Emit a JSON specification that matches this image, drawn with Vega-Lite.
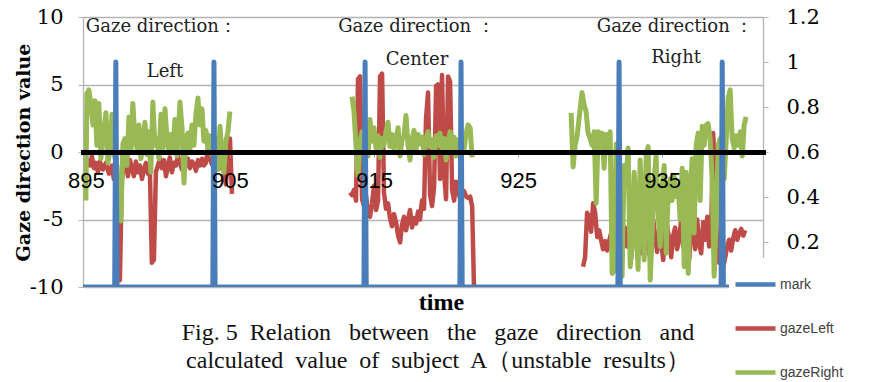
{
"$schema":"https://vega.github.io/schema/vega-lite/v6.json",
"width":680,"height":270,
"autosize":{"type":"none"},
"padding":{"left":83,"top":17,"right":115,"bottom":95},
"background":"white",
"config":{"view":{"stroke":null}},
"datasets":{
"gazeLeft":[
{"t":895.14,"seg":1,"v":-0.5},{"t":895.28,"seg":1,"v":-1.0},{"t":895.42,"seg":1,"v":-0.3},{"t":895.56,"seg":1,"v":-1.2},{"t":895.69,"seg":1,"v":-0.8},{"t":895.83,"seg":1,"v":-1.5},{"t":895.97,"seg":1,"v":-0.7},{"t":896.18,"seg":1,"v":-1.3},{"t":896.39,"seg":1,"v":-0.8},{"t":896.60,"seg":1,"v":-1.6},{"t":896.81,"seg":1,"v":-1.0},{"t":896.94,"seg":1,"v":-2.0},{"t":897.08,"seg":1,"v":-1.5},{"t":897.22,"seg":1,"v":-9.3},{"t":897.36,"seg":1,"v":-9.5},{"t":897.50,"seg":1,"v":-2.0},{"t":897.64,"seg":1,"v":-1.2},{"t":897.78,"seg":1,"v":-0.5},{"t":897.92,"seg":1,"v":-1.8},{"t":898.06,"seg":1,"v":-0.6},{"t":898.19,"seg":1,"v":-1.2},{"t":898.33,"seg":1,"v":-1.8},{"t":898.47,"seg":1,"v":-0.7},{"t":898.61,"seg":1,"v":-1.5},{"t":898.75,"seg":1,"v":-1.0},{"t":898.89,"seg":1,"v":-2.0},{"t":899.03,"seg":1,"v":-1.3},{"t":899.17,"seg":1,"v":-0.8},{"t":899.31,"seg":1,"v":-1.6},{"t":899.44,"seg":1,"v":-1.2},{"t":899.58,"seg":1,"v":-8.2},{"t":899.72,"seg":1,"v":-8.0},{"t":899.86,"seg":1,"v":-1.5},{"t":900.00,"seg":1,"v":-1.0},{"t":900.14,"seg":1,"v":-0.5},{"t":900.28,"seg":1,"v":-1.2},{"t":900.42,"seg":1,"v":-0.6},{"t":900.56,"seg":1,"v":-1.8},{"t":900.69,"seg":1,"v":-1.0},{"t":900.83,"seg":1,"v":-0.4},{"t":900.97,"seg":1,"v":-1.5},{"t":901.11,"seg":1,"v":-0.8},{"t":901.25,"seg":1,"v":-1.0},{"t":901.39,"seg":1,"v":-0.3},{"t":901.53,"seg":1,"v":-0.8},{"t":901.67,"seg":1,"v":-1.3},{"t":901.81,"seg":1,"v":-0.6},{"t":901.94,"seg":1,"v":-1.0},{"t":902.08,"seg":1,"v":-0.5},{"t":902.22,"seg":1,"v":-1.2},{"t":902.36,"seg":1,"v":-0.7},{"t":902.50,"seg":1,"v":-0.9},{"t":902.64,"seg":1,"v":-1.4},{"t":902.78,"seg":1,"v":-0.6},{"t":902.92,"seg":1,"v":-1.0},{"t":903.06,"seg":1,"v":-0.5},{"t":903.19,"seg":1,"v":-1.0},{"t":903.33,"seg":1,"v":-0.8},{"t":903.47,"seg":1,"v":0.3},{"t":903.61,"seg":1,"v":-0.5},{"t":903.75,"seg":1,"v":-0.9},{"t":903.89,"seg":1,"v":-0.6},{"t":904.03,"seg":1,"v":-1.0},{"t":904.17,"seg":1,"v":-0.8},{"t":904.31,"seg":1,"v":-1.2},{"t":904.44,"seg":1,"v":-0.5},{"t":904.58,"seg":1,"v":-1.5},{"t":904.72,"seg":1,"v":-2.4},{"t":904.86,"seg":1,"v":-0.3},{"t":905.00,"seg":1,"v":1.0},{"t":905.14,"seg":1,"v":-3.1},
{"t":913.33,"seg":2,"v":-3.0},{"t":913.47,"seg":2,"v":-3.2},{"t":913.61,"seg":2,"v":-2.8},{"t":913.75,"seg":2,"v":-3.6},{"t":913.89,"seg":2,"v":5.4},{"t":914.03,"seg":2,"v":5.6},{"t":914.17,"seg":2,"v":-3.5},{"t":914.31,"seg":2,"v":-4.0},{"t":914.44,"seg":2,"v":-3.2},{"t":914.58,"seg":2,"v":-4.5},{"t":914.72,"seg":2,"v":-4.8},{"t":914.86,"seg":2,"v":-3.8},{"t":915.00,"seg":2,"v":-2.5},{"t":915.14,"seg":2,"v":-4.3},{"t":915.28,"seg":2,"v":-3.6},{"t":915.42,"seg":2,"v":5.6},{"t":915.56,"seg":2,"v":5.8},{"t":915.69,"seg":2,"v":-3.0},{"t":915.83,"seg":2,"v":-4.2},{"t":915.97,"seg":2,"v":-3.8},{"t":916.11,"seg":2,"v":-4.9},{"t":916.25,"seg":2,"v":-5.5},{"t":916.39,"seg":2,"v":-4.6},{"t":916.53,"seg":2,"v":-5.2},{"t":916.67,"seg":2,"v":-6.2},{"t":916.81,"seg":2,"v":-6.7},{"t":916.94,"seg":2,"v":-5.4},{"t":917.08,"seg":2,"v":-4.8},{"t":917.22,"seg":2,"v":-5.8},{"t":917.36,"seg":2,"v":-5.0},{"t":917.50,"seg":2,"v":-4.3},{"t":917.64,"seg":2,"v":-5.6},{"t":917.78,"seg":2,"v":-4.9},{"t":917.92,"seg":2,"v":-5.3},{"t":918.06,"seg":2,"v":-4.4},{"t":918.19,"seg":2,"v":-5.0},{"t":918.33,"seg":2,"v":-3.6},{"t":918.47,"seg":2,"v":-4.2},{"t":918.61,"seg":2,"v":2.5},{"t":918.75,"seg":2,"v":4.4},{"t":918.89,"seg":2,"v":-3.2},{"t":919.03,"seg":2,"v":-4.0},{"t":919.17,"seg":2,"v":-2.6},{"t":919.31,"seg":2,"v":4.9},{"t":919.44,"seg":2,"v":5.0},{"t":919.58,"seg":2,"v":-2.0},{"t":919.72,"seg":2,"v":5.7},{"t":919.86,"seg":2,"v":-1.5},{"t":920.00,"seg":2,"v":-3.5},{"t":920.14,"seg":2,"v":5.6},{"t":920.28,"seg":2,"v":5.2},{"t":920.42,"seg":2,"v":-2.8},{"t":920.56,"seg":2,"v":-3.6},{"t":920.69,"seg":2,"v":-2.2},{"t":920.83,"seg":2,"v":-3.0},{"t":920.97,"seg":2,"v":-3.4},{"t":921.11,"seg":2,"v":-3.0},{"t":921.25,"seg":2,"v":-2.9},{"t":921.39,"seg":2,"v":-3.3},{"t":921.53,"seg":2,"v":-3.4},{"t":921.67,"seg":2,"v":-3.3},{"t":921.81,"seg":2,"v":-4.0},{"t":921.94,"seg":2,"v":-10.0},
{"t":929.51,"seg":3,"v":-8.5},{"t":929.65,"seg":3,"v":-7.8},{"t":929.79,"seg":3,"v":-4.5},{"t":929.93,"seg":3,"v":-4.8},{"t":930.07,"seg":3,"v":-5.9},{"t":930.21,"seg":3,"v":-3.8},{"t":930.35,"seg":3,"v":-4.5},{"t":930.49,"seg":3,"v":-6.3},{"t":930.63,"seg":3,"v":-5.8},{"t":930.76,"seg":3,"v":-6.5},{"t":930.90,"seg":3,"v":-7.2},{"t":931.04,"seg":3,"v":-6.6},{"t":931.18,"seg":3,"v":-7.3},{"t":931.32,"seg":3,"v":-6.6},{"t":931.46,"seg":3,"v":-6.0},{"t":931.60,"seg":3,"v":-7.0},{"t":931.74,"seg":3,"v":-6.3},{"t":931.88,"seg":3,"v":-5.5},{"t":932.01,"seg":3,"v":-6.8},{"t":932.15,"seg":3,"v":-7.6},{"t":932.29,"seg":3,"v":-6.2},{"t":932.43,"seg":3,"v":-5.6},{"t":932.57,"seg":3,"v":-7.0},{"t":932.71,"seg":3,"v":-6.0},{"t":932.85,"seg":3,"v":-7.8},{"t":932.99,"seg":3,"v":-6.5},{"t":933.13,"seg":3,"v":-5.8},{"t":933.26,"seg":3,"v":-7.0},{"t":933.40,"seg":3,"v":-6.2},{"t":933.54,"seg":3,"v":-7.5},{"t":933.68,"seg":3,"v":-5.4},{"t":933.82,"seg":3,"v":-6.0},{"t":933.96,"seg":3,"v":-6.6},{"t":934.10,"seg":3,"v":-7.6},{"t":934.24,"seg":3,"v":-6.0},{"t":934.38,"seg":3,"v":-5.0},{"t":934.51,"seg":3,"v":-6.3},{"t":934.65,"seg":3,"v":-7.4},{"t":934.79,"seg":3,"v":-5.8},{"t":934.93,"seg":3,"v":-6.6},{"t":935.07,"seg":3,"v":-8.0},{"t":935.21,"seg":3,"v":-6.0},{"t":935.35,"seg":3,"v":-5.5},{"t":935.49,"seg":3,"v":-6.5},{"t":935.63,"seg":3,"v":-7.8},{"t":935.76,"seg":3,"v":-6.2},{"t":935.90,"seg":3,"v":-5.6},{"t":936.04,"seg":3,"v":-7.2},{"t":936.18,"seg":3,"v":-6.4},{"t":936.32,"seg":3,"v":-5.0},{"t":936.46,"seg":3,"v":-7.0},{"t":936.60,"seg":3,"v":-4.8},{"t":936.74,"seg":3,"v":-6.5},{"t":936.88,"seg":3,"v":-8.0},{"t":937.01,"seg":3,"v":-5.2},{"t":937.15,"seg":3,"v":-6.0},{"t":937.29,"seg":3,"v":-7.2},{"t":937.43,"seg":3,"v":-5.0},{"t":937.57,"seg":3,"v":-6.8},{"t":937.71,"seg":3,"v":-7.5},{"t":937.85,"seg":3,"v":-5.2},{"t":937.99,"seg":3,"v":-6.5},{"t":938.13,"seg":3,"v":-4.8},{"t":938.26,"seg":3,"v":-7.0},{"t":938.40,"seg":3,"v":-6.0},{"t":938.54,"seg":3,"v":1.4},{"t":938.68,"seg":3,"v":-2.0},{"t":938.82,"seg":3,"v":-7.5},{"t":938.96,"seg":3,"v":-8.2},{"t":939.10,"seg":3,"v":-7.0},{"t":939.24,"seg":3,"v":-8.5},{"t":939.38,"seg":3,"v":-7.8},{"t":939.51,"seg":3,"v":-7.0},{"t":939.65,"seg":3,"v":-6.5},{"t":939.79,"seg":3,"v":-7.3},{"t":939.93,"seg":3,"v":-6.4},{"t":940.07,"seg":3,"v":-5.8},{"t":940.21,"seg":3,"v":-6.5},{"t":940.35,"seg":3,"v":-6.0},{"t":940.49,"seg":3,"v":-5.7},{"t":940.63,"seg":3,"v":-6.2},{"t":940.76,"seg":3,"v":-5.8}
],
"gazeRight":[
{"t":895.00,"seg":1,"v":-3.6},{"t":895.07,"seg":1,"v":4.3},{"t":895.21,"seg":1,"v":4.6},{"t":895.35,"seg":1,"v":3.5},{"t":895.49,"seg":1,"v":2.0},{"t":895.63,"seg":1,"v":3.8},{"t":895.76,"seg":1,"v":0.5},{"t":895.90,"seg":1,"v":3.6},{"t":896.04,"seg":1,"v":-0.5},{"t":896.18,"seg":1,"v":1.0},{"t":896.39,"seg":1,"v":2.9},{"t":896.53,"seg":1,"v":-0.8},{"t":896.67,"seg":1,"v":0.2},{"t":896.81,"seg":1,"v":2.8},{"t":896.94,"seg":1,"v":0.0},{"t":897.15,"seg":1,"v":-1.0},{"t":897.29,"seg":1,"v":-5.0},{"t":897.43,"seg":1,"v":-5.1},{"t":897.57,"seg":1,"v":0.6},{"t":897.71,"seg":1,"v":1.0},{"t":897.85,"seg":1,"v":-1.0},{"t":897.99,"seg":1,"v":2.6},{"t":898.13,"seg":1,"v":0.2},{"t":898.26,"seg":1,"v":3.6},{"t":898.40,"seg":1,"v":1.0},{"t":898.54,"seg":1,"v":0.3},{"t":898.68,"seg":1,"v":2.0},{"t":898.82,"seg":1,"v":-0.5},{"t":898.96,"seg":1,"v":0.8},{"t":899.10,"seg":1,"v":2.2},{"t":899.24,"seg":1,"v":-0.2},{"t":899.38,"seg":1,"v":1.5},{"t":899.51,"seg":1,"v":-1.5},{"t":899.65,"seg":1,"v":3.7},{"t":899.79,"seg":1,"v":0.5},{"t":899.93,"seg":1,"v":1.0},{"t":900.07,"seg":1,"v":-0.5},{"t":900.21,"seg":1,"v":2.8},{"t":900.35,"seg":1,"v":0.3},{"t":900.49,"seg":1,"v":3.2},{"t":900.63,"seg":1,"v":1.0},{"t":900.76,"seg":1,"v":0.0},{"t":900.90,"seg":1,"v":1.3},{"t":901.04,"seg":1,"v":0.2},{"t":901.18,"seg":1,"v":2.4},{"t":901.32,"seg":1,"v":-0.3},{"t":901.53,"seg":1,"v":3.7},{"t":901.67,"seg":1,"v":1.8},{"t":901.81,"seg":1,"v":-2.3},{"t":901.94,"seg":1,"v":1.0},{"t":902.08,"seg":1,"v":1.4},{"t":902.22,"seg":1,"v":0.1},{"t":902.36,"seg":1,"v":2.0},{"t":902.50,"seg":1,"v":0.5},{"t":902.64,"seg":1,"v":2.8},{"t":902.78,"seg":1,"v":4.0},{"t":902.92,"seg":1,"v":2.0},{"t":903.06,"seg":1,"v":3.2},{"t":903.19,"seg":1,"v":0.8},{"t":903.33,"seg":1,"v":1.6},{"t":903.47,"seg":1,"v":0.3},{"t":903.61,"seg":1,"v":1.2},{"t":903.75,"seg":1,"v":-0.2},{"t":903.89,"seg":1,"v":0.5},{"t":904.03,"seg":1,"v":1.0},{"t":904.17,"seg":1,"v":-1.3},{"t":904.31,"seg":1,"v":1.9},{"t":904.44,"seg":1,"v":-0.3},{"t":904.58,"seg":1,"v":-1.5},{"t":904.72,"seg":1,"v":0.8},{"t":904.86,"seg":1,"v":1.5},{"t":905.00,"seg":1,"v":3.0},
{"t":913.47,"seg":2,"v":4.1},{"t":913.61,"seg":2,"v":3.0},{"t":913.75,"seg":2,"v":0.5},{"t":913.89,"seg":2,"v":-1.8},{"t":914.03,"seg":2,"v":0.8},{"t":914.17,"seg":2,"v":1.5},{"t":914.31,"seg":2,"v":0.2},{"t":914.44,"seg":2,"v":1.0},{"t":914.58,"seg":2,"v":-0.3},{"t":914.72,"seg":2,"v":2.4},{"t":914.86,"seg":2,"v":0.8},{"t":915.00,"seg":2,"v":1.8},{"t":915.14,"seg":2,"v":0.3},{"t":915.28,"seg":2,"v":1.2},{"t":915.42,"seg":2,"v":-0.4},{"t":915.56,"seg":2,"v":1.0},{"t":915.69,"seg":2,"v":0.5},{"t":915.83,"seg":2,"v":1.5},{"t":915.97,"seg":2,"v":2.2},{"t":916.11,"seg":2,"v":0.4},{"t":916.25,"seg":2,"v":1.3},{"t":916.39,"seg":2,"v":0.2},{"t":916.53,"seg":2,"v":1.0},{"t":916.67,"seg":2,"v":1.8},{"t":916.81,"seg":2,"v":-0.3},{"t":916.94,"seg":2,"v":0.9},{"t":917.08,"seg":2,"v":1.2},{"t":917.22,"seg":2,"v":2.7},{"t":917.36,"seg":2,"v":0.5},{"t":917.50,"seg":2,"v":-0.6},{"t":917.64,"seg":2,"v":1.0},{"t":917.78,"seg":2,"v":1.6},{"t":917.92,"seg":2,"v":0.2},{"t":918.06,"seg":2,"v":1.3},{"t":918.19,"seg":2,"v":0.6},{"t":918.33,"seg":2,"v":1.1},{"t":918.47,"seg":2,"v":-0.2},{"t":918.61,"seg":2,"v":1.0},{"t":918.75,"seg":2,"v":1.5},{"t":918.89,"seg":2,"v":0.4},{"t":919.03,"seg":2,"v":0.9},{"t":919.17,"seg":2,"v":-0.4},{"t":919.31,"seg":2,"v":1.2},{"t":919.44,"seg":2,"v":0.5},{"t":919.58,"seg":2,"v":1.4},{"t":919.72,"seg":2,"v":0.2},{"t":919.86,"seg":2,"v":1.0},{"t":920.00,"seg":2,"v":-0.6},{"t":920.14,"seg":2,"v":0.8},{"t":920.28,"seg":2,"v":1.5},{"t":920.42,"seg":2,"v":0.3},{"t":920.56,"seg":2,"v":1.1},{"t":920.69,"seg":2,"v":-0.3},{"t":920.83,"seg":2,"v":0.9},{"t":920.97,"seg":2,"v":0.5},{"t":921.11,"seg":2,"v":1.0},{"t":921.25,"seg":2,"v":0.2},{"t":921.39,"seg":2,"v":1.4},{"t":921.53,"seg":2,"v":2.0},{"t":921.67,"seg":2,"v":1.8},{"t":921.81,"seg":2,"v":-0.4},
{"t":928.68,"seg":3,"v":2.9},{"t":928.82,"seg":3,"v":-1.1},{"t":928.96,"seg":3,"v":0.5},{"t":929.10,"seg":3,"v":1.2},{"t":929.31,"seg":3,"v":3.2},{"t":929.44,"seg":3,"v":4.4},{"t":929.58,"seg":3,"v":3.5},{"t":929.72,"seg":3,"v":3.0},{"t":929.86,"seg":3,"v":1.4},{"t":930.00,"seg":3,"v":1.0},{"t":930.14,"seg":3,"v":0.5},{"t":930.28,"seg":3,"v":1.5},{"t":930.42,"seg":3,"v":-3.8},{"t":930.56,"seg":3,"v":1.5},{"t":930.69,"seg":3,"v":0.4},{"t":930.83,"seg":3,"v":1.4},{"t":930.97,"seg":3,"v":-1.2},{"t":931.11,"seg":3,"v":1.3},{"t":931.25,"seg":3,"v":0.3},{"t":931.39,"seg":3,"v":1.5},{"t":931.53,"seg":3,"v":-9.0},{"t":931.67,"seg":3,"v":-8.8},{"t":931.81,"seg":3,"v":0.6},{"t":931.94,"seg":3,"v":-3.5},{"t":932.08,"seg":3,"v":-6.0},{"t":932.22,"seg":3,"v":-9.2},{"t":932.36,"seg":3,"v":-1.0},{"t":932.50,"seg":3,"v":-2.0},{"t":932.64,"seg":3,"v":0.3},{"t":932.78,"seg":3,"v":-8.5},{"t":932.92,"seg":3,"v":-7.0},{"t":933.06,"seg":3,"v":-1.5},{"t":933.19,"seg":3,"v":-5.0},{"t":933.33,"seg":3,"v":-8.7},{"t":933.47,"seg":3,"v":-0.6},{"t":933.61,"seg":3,"v":-4.0},{"t":933.75,"seg":3,"v":-8.0},{"t":933.89,"seg":3,"v":-0.3},{"t":934.03,"seg":3,"v":0.4},{"t":934.17,"seg":3,"v":-9.5},{"t":934.31,"seg":3,"v":-6.0},{"t":934.44,"seg":3,"v":-2.0},{"t":934.58,"seg":3,"v":-0.3},{"t":934.72,"seg":3,"v":-4.5},{"t":934.86,"seg":3,"v":-7.0},{"t":935.00,"seg":3,"v":-2.5},{"t":935.14,"seg":3,"v":-1.0},{"t":935.28,"seg":3,"v":-7.5},{"t":935.42,"seg":3,"v":-3.0},{"t":935.56,"seg":3,"v":-2.0},{"t":935.69,"seg":3,"v":-3.6},{"t":935.83,"seg":3,"v":-1.8},{"t":935.97,"seg":3,"v":-3.3},{"t":936.11,"seg":3,"v":-2.5},{"t":936.25,"seg":3,"v":-5.0},{"t":936.39,"seg":3,"v":-1.2},{"t":936.53,"seg":3,"v":-8.5},{"t":936.67,"seg":3,"v":-1.5},{"t":936.81,"seg":3,"v":-9.0},{"t":936.94,"seg":3,"v":-3.5},{"t":937.08,"seg":3,"v":-0.5},{"t":937.22,"seg":3,"v":-6.0},{"t":937.36,"seg":3,"v":0.5},{"t":937.50,"seg":3,"v":1.4},{"t":937.64,"seg":3,"v":-3.6},{"t":937.78,"seg":3,"v":1.9},{"t":937.92,"seg":3,"v":0.5},{"t":938.06,"seg":3,"v":2.0},{"t":938.19,"seg":3,"v":2.1},{"t":938.33,"seg":3,"v":1.0},{"t":938.47,"seg":3,"v":-2.0},{"t":938.61,"seg":3,"v":-9.2},{"t":938.75,"seg":3,"v":-5.0},{"t":938.89,"seg":3,"v":0.5},{"t":939.03,"seg":3,"v":1.0},{"t":939.17,"seg":3,"v":0.8},{"t":939.31,"seg":3,"v":-2.0},{"t":939.44,"seg":3,"v":0.8},{"t":939.58,"seg":3,"v":4.0},{"t":939.72,"seg":3,"v":4.6},{"t":939.86,"seg":3,"v":1.0},{"t":940.00,"seg":3,"v":0.3},{"t":940.14,"seg":3,"v":1.2},{"t":940.28,"seg":3,"v":0.5},{"t":940.42,"seg":3,"v":1.5},{"t":940.56,"seg":3,"v":-0.3},{"t":940.69,"seg":3,"v":2.0},{"t":940.83,"seg":3,"v":2.6}
],
"mark":[
{"t":894.8,"v":0},{"t":897.0,"v":0},{"t":897.08,"v":1},{"t":897.16,"v":0},{"t":903.81,"v":0},{"t":903.89,"v":1},{"t":903.97,"v":0},{"t":914.30,"v":0},{"t":914.38,"v":1},{"t":914.46,"v":0},{"t":920.96,"v":0},{"t":921.04,"v":1},{"t":921.12,"v":0},{"t":931.93,"v":0},{"t":932.01,"v":1},{"t":932.09,"v":0},{"t":939.09,"v":0},{"t":939.17,"v":1},{"t":939.25,"v":0},{"t":942.0,"v":0}
],
"notes":[
{"t":900.24,"v":9.26,"label":"Gaze direction："},
{"t":900.49,"v":5.95,"label":"Left"},
{"t":917.95,"v":9.26,"label":"Gaze direction\u00a0："},
{"t":917.99,"v":6.85,"label":"Center"},
{"t":935.90,"v":9.26,"label":"Gaze direction\u00a0："},
{"t":935.97,"v":6.95,"label":"Right"}
]
},
"title":{"text":["Fig. 5\u00a0 Relation\u00a0\u00a0 between\u00a0\u00a0 the\u00a0\u00a0 gaze\u00a0\u00a0 direction\u00a0\u00a0 and","calculated\u00a0 value\u00a0 of\u00a0 subject\u00a0 A（unstable\u00a0 results）"],"orient":"bottom","anchor":"middle","frame":"group","font":"Liberation Serif","fontSize":24,"fontWeight":"normal","color":"#111111","lineHeight":28,"offset":0,"dx":15,"dy":-65},
"encoding":{
"x":{"field":"t","type":"quantitative","scale":{"domain":[894.8,942],"nice":false,"zero":false},
"axis":{"values":[895,905,915,925,935],"format":"d","offset":-135,"domainColor":"black","domainWidth":5,"domainCap":"square","ticks":true,"tickColor":"#999999","tickSize":5,"labelFont":"Liberation Sans","labelFontSize":22,"labelColor":"black","labelPadding":13,"labelFlush":false,"labelOverlap":false,"grid":false,"title":"time","titleFont":"Liberation Serif","titleFontSize":24,"titleFontWeight":"bold","titleColor":"black","titleX":358,"titleY":157,"titleBaseline":"alphabetic","titleAlign":"center","zindex":1}}
},
"layer":[
{"layer":[
{"data":{"name":"gazeLeft"},"mark":{"type":"line","strokeWidth":4.5,"strokeJoin":"round","clip":true},
"encoding":{"y":{"field":"v","type":"quantitative","scale":{"domain":[-10,10],"nice":false},
"axis":{"orient":"left","values":[-10,-5,0,5,10],"labelExpr":"replace(datum.label, '\u2212', '-')","grid":true,"gridColor":"#b3b3b3","gridWidth":1.3,"domainColor":"#b3b3b3","domainWidth":1.3,"tickColor":"#b3b3b3","tickSize":5,"labelFont":"DejaVu Serif","labelFontSize":21,"labelColor":"black","labelPadding":15,"labelFlush":false,"labelOverlap":false,"title":"Gaze direction value","titleFont":"DejaVu Serif","titleFontSize":19,"titleFontWeight":"bold","titleColor":"black","titleAngle":-90,"titleX":-54,"titleY":135,"titleAlign":"center","titleBaseline":"alphabetic"}},
"detail":{"field":"seg","type":"nominal"},
"color":{"datum":"gazeLeft","type":"nominal","scale":{"domain":["mark","gazeLeft","gazeRight"],"range":["#4A7EBB","#BE4B48","#98B954"]},
"legend":{"orient":"none","legendX":646,"legendY":241,"title":null,"fillColor":"white","padding":4,"rowPadding":12,"symbolType":"stroke","symbolSize":1600,"symbolStrokeWidth":4.5,"labelFont":"Liberation Sans","labelFontSize":14,"labelColor":"#404040","labelOffset":2,"zindex":3}}}},
{"data":{"name":"gazeRight"},"mark":{"type":"line","strokeWidth":5,"strokeJoin":"round","clip":true},
"encoding":{"y":{"field":"v","type":"quantitative"},"detail":{"field":"seg","type":"nominal"},"color":{"datum":"gazeRight","type":"nominal"}}},
{"data":{"name":"notes"},"mark":{"type":"text","font":"DejaVu Serif","fontSize":18,"color":"#222222","align":"center","baseline":"middle"},
"encoding":{"y":{"field":"v","type":"quantitative"},"text":{"field":"label","type":"nominal"}}}
]},
{"data":{"name":"mark"},"mark":{"type":"line","strokeWidth":5,"strokeJoin":"round","clip":true},
"encoding":{"y":{"field":"v","type":"quantitative","scale":{"domain":[0,1.2],"nice":false},
"axis":{"orient":"right","values":[0,0.2,0.4,0.6,0.8,1,1.2],"format":"~g","labelExpr":"datum.value == 0 ? '' : datum.label","grid":false,"domainColor":"#b3b3b3","domainWidth":1.3,"tickColor":"#b3b3b3","tickSize":5,"labelFont":"DejaVu Serif","labelFontSize":21,"labelColor":"black","labelPadding":18,"labelFlush":false,"labelOverlap":false,"title":null}},
"color":{"datum":"mark","type":"nominal"}}}
],
"resolve":{"scale":{"y":"independent"}}
}
